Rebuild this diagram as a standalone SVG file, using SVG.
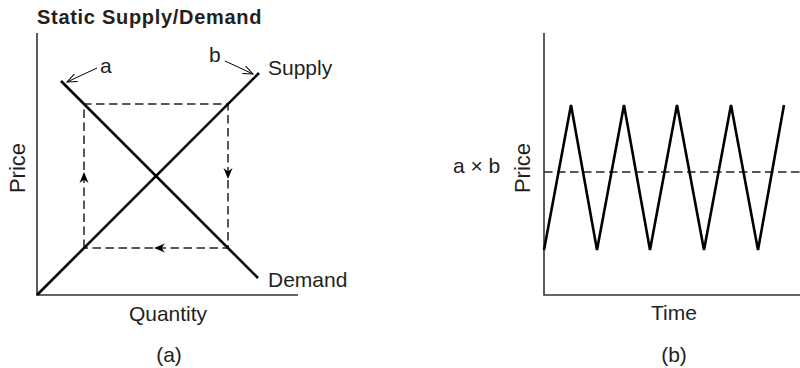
<svg xmlns="http://www.w3.org/2000/svg" width="800" height="368" viewBox="0 0 800 368">
<style>
text{font-family:"Liberation Sans",Arial,Helvetica,sans-serif;fill:#231f20;font-size:21px}
.title{font-weight:bold;font-size:20px;letter-spacing:0.7px}
.axis{stroke:#333;stroke-width:1.6;fill:none}
.curve{stroke:#000;stroke-width:2.6;fill:none;stroke-linecap:butt;stroke-linejoin:miter}
.dash{stroke:#222;stroke-width:1.5;fill:none;stroke-dasharray:8.5 4.5}
.lead{stroke:#000;stroke-width:1;fill:none}
.mid{text-anchor:middle}
.rot{font-size:22px}
</style>
<defs>
<path id="barb" d="M0,0 L-11,-4.5 L-7.5,0 L-11,4.5 Z" fill="#000"/>
<marker id="vhead" markerUnits="userSpaceOnUse" markerWidth="14" markerHeight="12" refX="0" refY="0" viewBox="-11 -6 12 12" orient="auto">
<path d="M-10,-4 L0,0 L-10,4" fill="none" stroke="#000" stroke-width="1"/>
</marker>
</defs>

<text class="title" x="37" y="24">Static Supply/Demand</text>

<g id="panel-a">
<path class="axis" d="M37,33 V295 H298"/>
<g id="dashed-cycle">
<path class="dash" d="M84,248 V104 H228 V248 Z"/>
<use href="#barb" transform="translate(84,172) rotate(-90)"/>
<use href="#barb" transform="translate(228,179) rotate(90)"/>
<use href="#barb" transform="translate(154,248) rotate(180)"/>
</g>
<path id="supply" class="curve" d="M37,295 L259,73"/>
<path id="demand" class="curve" d="M61,81 L258,278"/>
<g id="leaders">
<path class="lead" d="M97,68 L67,82" marker-end="url(#vhead)"/>
<path class="lead" d="M225,61 L253,74" marker-end="url(#vhead)"/>
</g>
<text x="100" y="73">a</text>
<text x="209" y="62">b</text>
<text x="268" y="75">Supply</text>
<text x="268" y="287">Demand</text>
<text class="mid" x="168" y="321">Quantity</text>
<text class="mid" x="169" y="362">(a)</text>
<text class="mid rot" transform="translate(25,168) rotate(-90)">Price</text>
</g>

<g id="panel-b">
<path class="axis" d="M544,33 V295 H800"/>
<path class="dash" d="M544,172 H800"/>
<path class="curve" d="M544,250 L571,105 L597,250 L624,105 L650,250 L677,105 L704,250 L731,105 L758,250 L784,105"/>
<text x="453" y="173">a × b</text>
<text class="mid rot" transform="translate(530,168) rotate(-90)">Price</text>
<text class="mid" x="674" y="320">Time</text>
<text class="mid" x="674" y="362">(b)</text>
</g>
</svg>
